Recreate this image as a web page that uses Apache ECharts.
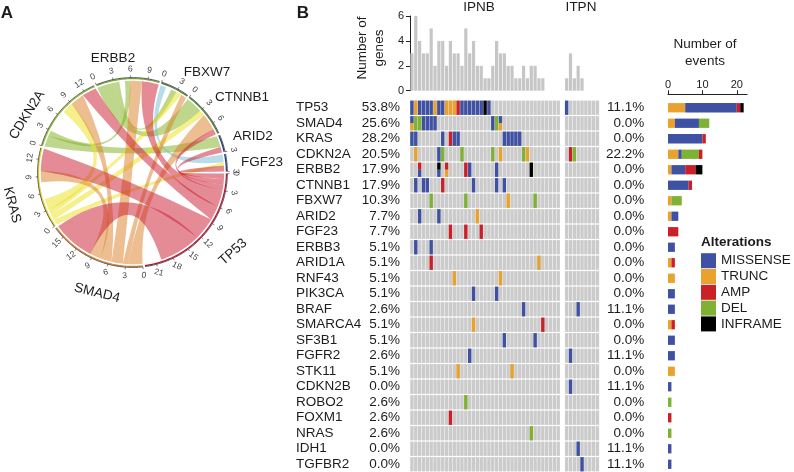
<!DOCTYPE html>
<html>
<head>
<meta charset="utf-8">
<style>html,body{margin:0;padding:0;background:#fff}#c{width:794px;height:472px}</style>
<script src="https://cdn.jsdelivr.net/npm/echarts@6/dist/echarts.min.js"></script>
</head>
<body>
<div id="c"></div>
<script>
// ---------- Panel A data ----------
const sectorNames = ['TP53','SMAD4','KRAS','CDKN2A','ERBB2','FBXW7','CTNNB1','ARID2','FGF23'];
const sectorSizes = [23,17,14,14,11,5,8,3,3];
const sectorColors = ['#C8102E','#E07F2A','#E8D916','#8FBF2A','#7EA832','#4f7d3a','#4f7d3a','#1a3b8c','#1a3b8c'];
const sectorTicks = [
  [0,3,6,9,12,15,18,21],[0,3,6,9,12,15],[0,3,6,9,12],[0,3,6,9,12],[0,3,6,9],[0,3],[0,3,6],[3],[3]
];
// link: colour key, sector A, start, end, sector B, start, end (in event units)
const links = [
  ['green', 'ERBB2',0,3,'CTNNB1',0,3],
  ['green', 'ERBB2',3,4,'FBXW7',2,3],
  ['green', 'CDKN2A',2,3,'ERBB2',5,6],
  ['green', 'CDKN2A',0,2,'ARID2',0,2],
  ['blue',  'FBXW7',0,1,'FGF23',0,1.4],
  ['yellow','KRAS',0,1,'FGF23',1.4,2],
  ['yellow','KRAS',1,2,'CTNNB1',3,4],
  ['yellow','KRAS',2,3,'FBXW7',3,4],
  ['yellow','KRAS',3,5,'CDKN2A',7,9],
  ['orange','SMAD4',0,2.5,'CTNNB1',4,7],
  ['orange','SMAD4',2.5,3.5,'FBXW7',4,5],
  ['orange','SMAD4',3.5,5.5,'ERBB2',6,8],
  ['orange','SMAD4',5.5,7.5,'CDKN2A',9,11.5],
  ['orange','SMAD4',7.5,9.5,'KRAS',8,10],
  ['red',   'TP53',0,1,'FGF23',2,3],
  ['red',   'TP53',1,2,'ARID2',2,3],
  ['red',   'TP53',2,3,'CTNNB1',7,8],
  ['red',   'TP53',3,6,'ERBB2',8,11],
  ['red',   'TP53',6,8.5,'CDKN2A',11.5,14],
  ['red',   'TP53',8.5,12.5,'KRAS',10,14],
  ['red',   'TP53',12.5,20,'SMAD4',9.5,17]
];
const linkColors = {red:'#C9182B',orange:'#D97D23',yellow:'#EBDF19',green:'#7DAF19',blue:'#73B9D7'};

// ---------- Panel B data ----------
const genes = ['TP53','SMAD4','KRAS','CDKN2A','ERBB2','CTNNB1','FBXW7','ARID2','FGF23','ERBB3','ARID1A','RNF43','PIK3CA','BRAF','SMARCA4','SF3B1','FGFR2','STK11','CDKN2B','ROBO2','FOXM1','NRAS','IDH1','TGFBR2'];
const pctIPNB = ['53.8%','25.6%','28.2%','20.5%','17.9%','17.9%','10.3%','7.7%','7.7%','5.1%','5.1%','5.1%','5.1%','2.6%','5.1%','5.1%','2.6%','5.1%','0.0%','2.6%','2.6%','2.6%','0.0%','0.0%'];
const pctITPN = ['11.1%','0.0%','0.0%','22.2%','0.0%','0.0%','0.0%','0.0%','0.0%','0.0%','0.0%','0.0%','0.0%','11.1%','0.0%','0.0%','11.1%','0.0%','11.1%','0.0%','0.0%','0.0%','11.1%','11.1%'];
const genesPerSampleIPNB = [3,6,4,3,3,5,2,4,4,2,4,3,3,2,5,3,4,2,2,1,1,2,4,3,3,2,2,1,1,2,1,2,2,1,1,0,0,0,0];
const genesPerSampleITPN = [1,3,1,2,1,0,0,0,0];
// M missense, T trunc, A amp, D del, I inframe: [column, type, optional lower-half type]
const cellsIPNB = [
  [[0,'M'],[1,'T'],[2,'M'],[3,'M'],[4,'M'],[5,'M'],[6,'T'],[7,'M'],[8,'M'],[9,'T'],[10,'T'],[11,'T'],[12,'A'],[13,'M'],[14,'M'],[15,'M'],[16,'M'],[17,'M'],[18,'M'],[19,'I'],[20,'M']],
  [[0,'M','T'],[1,'D'],[2,'D'],[3,'M'],[4,'M'],[5,'M'],[6,'M'],[21,'M'],[22,'D'],[23,'M','T']],
  [[0,'M'],[1,'M'],[8,'M'],[10,'A'],[11,'M'],[12,'M'],[24,'M'],[25,'M'],[26,'M'],[27,'M'],[28,'M']],
  [[1,'T'],[7,'M'],[8,'D'],[13,'D'],[21,'D'],[23,'T'],[29,'D'],[30,'T']],
  [[2,'A','M'],[7,'I','M'],[9,'A','T'],[14,'A'],[15,'M'],[22,'M'],[31,'I']],
  [[1,'M'],[3,'M'],[4,'M'],[8,'A'],[16,'M'],[22,'M'],[24,'M']],
  [[5,'D'],[14,'D'],[25,'T'],[32,'D']],
  [[2,'M'],[7,'M'],[17,'T']],
  [[10,'A'],[14,'A'],[18,'A']],
  [[1,'M'],[5,'M']],
  [[5,'A'],[33,'T']],
  [[11,'T'],[23,'T']],
  [[16,'M'],[22,'M']],
  [[29,'M']],
  [[16,'T'],[34,'A']],
  [[24,'M'],[32,'M']],
  [[15,'M']],
  [[12,'T'],[26,'T']],
  [],
  [[14,'D']],
  [[10,'A']],
  [[31,'D']],
  [],
  []
];
const cellsITPN = [
  [[0,'M']],[],[],[[1,'A'],[2,'D']],[],[],[],[],[],[],[],[],[],[[3,'M']],[],[],[[1,'M']],[],[[1,'M']],[],[],[],[[3,'M']],[[4,'M']]
];
const eventsTrunc    = [5,2,0,3,1,0,1,1,0,0,1,2,0,0,1,0,0,2,0,0,0,0,0,0];
const eventsMissense = [15,7,10,1,4,6,0,2,0,2,0,0,2,2,0,2,2,0,1,0,0,0,1,1];
const eventsDel      = [0,3,0,5,0,0,3,0,0,0,0,0,0,0,0,0,0,0,0,1,0,1,0,0];
const eventsAmp      = [1,0,1,1,3,1,0,0,3,0,1,0,0,0,1,0,0,0,0,0,1,0,0,0];
const eventsInframe  = [1,0,0,0,2,0,0,0,0,0,0,0,0,0,0,0,0,0,0,0,0,0,0,0];
const eventTicks = [0,10,20];

// ---------- Styles ----------
const FONT = '"Liberation Sans", Arial, sans-serif';
const COL = {M:'#3F51A3',T:'#E8A22D',A:'#CB2027',D:'#7FB135',I:'#000000'};
const GREY = '#CBCBCB', BARGREY = '#C6C6C6', INK = '#1c1c1c';
const GAP = 0.37, RIB_R = 91.7, RING_R = 93.9, BLACK_R = 94.9;

// ---------- Circular layout in event units ----------
const sectorStart = [];
let running = GAP / 2;
sectorSizes.forEach((s,i)=>{ sectorStart[i]=running; running += s + GAP; });
const totalUnits = running - GAP/2;
const pos = (name,u)=> sectorStart[sectorNames.indexOf(name)] + u;

function renderLink(params, api){
  const l = links[params.dataIndex];
  const a0=pos(l[1],l[2]), a1=pos(l[1],l[3]), b0=pos(l[4],l[5]), b1=pos(l[4],l[6]);
  const arc=(from,to)=>{ const out=[]; const n=Math.max(2,Math.ceil((to-from)*4));
    for(let i=0;i<=n;i++){ out.push(api.coord([RIB_R, from+(to-from)*i/n])); } return out; };
  // control point of one ribbon edge: at the centre for close ends, pushed out for far ends
  const ctrl=(u,v)=>{
    let du=((v-u)%totalUnits+totalUnits)%totalUnits; if(du>totalUnits/2) du-=totalUnits;
    const deg=Math.abs(du)/totalUnits*360;
    const chord=RIB_R*Math.cos(deg/2*Math.PI/180);
    const k=0.5+0.3*Math.min(1,Math.max(0,(deg-100)/60));
    const r=Math.max(0.5,(2*k-1)*chord);
    const mid=((u+du/2)%totalUnits+totalUnits)%totalUnits;
    return api.coord([r,mid]);
  };
  const A=arc(a0,a1), B=arc(b0,b1), c1=ctrl(a1,b0), c2=ctrl(b1,a0);
  let d='M'+A[0][0]+' '+A[0][1];
  A.slice(1).forEach(p=>{d+=' L'+p[0]+' '+p[1];});
  d+=' Q'+c1[0]+' '+c1[1]+' '+B[0][0]+' '+B[0][1];
  B.slice(1).forEach(p=>{d+=' L'+p[0]+' '+p[1];});
  d+=' Q'+c2[0]+' '+c2[1]+' '+A[0][0]+' '+A[0][1]+' Z';
  return {type:'path',shape:{pathData:d},style:{fill:linkColors[l[0]],opacity:0.5,stroke:null}};
}
function renderSector(params, api){
  const i=params.dataIndex, s=sectorStart[i], size=sectorSizes[i];
  const c=api.coord([0,0]);
  const line=(r,color,w)=>{ const pts=[]; const n=Math.ceil(size*4);
    for(let k=0;k<=n;k++){ pts.push(api.coord([r,s+size*k/n])); }
    return {type:'polyline',shape:{points:pts},style:{stroke:color,lineWidth:w,fill:null}}; };
  const children=[line(RING_R,sectorColors[i],1.2),line(BLACK_R,'#111',0.7)];
  sectorTicks[i].forEach(t=>{
    const p0=api.coord([BLACK_R,s+t]), p1=api.coord([BLACK_R+2.2,s+t]), pl=api.coord([103.5,s+t]);
    children.push({type:'line',shape:{x1:p0[0],y1:p0[1],x2:p1[0],y2:p1[1]},style:{stroke:'#333',lineWidth:0.6}});
    let th=Math.atan2(pl[1]-c[1],pl[0]-c[0])*180/Math.PI; if(th<0) th+=360;
    const cw = th<=180 ? 90-th : th-270;
    children.push({type:'text',x:pl[0],y:pl[1],rotation:-cw*Math.PI/180,
      style:{text:String(t),font:'8.5px '+FONT,fill:'#444',textAlign:'center',textVerticalAlign:'middle'}});
  });
  return {type:'group',children};
}
function renderBackground(params, api){
  const p=api.coord([api.value(0),api.value(1)]), s=api.size([1,1]);
  return {type:'rect',shape:{x:p[0]-s[0]*0.44,y:p[1]-7.15,width:s[0]*0.88,height:14.3},style:{fill:GREY}};
}
function renderCell(params, api){
  const p=api.coord([api.value(0),api.value(1)]), s=api.size([1,1]);
  const code=api.value(2), lower=api.value(3);
  const w=s[0]*0.88, x=p[0]-w/2, y=p[1]-7.15, h=14.3;
  const a=['M','T','A','D','I'][code];
  if(lower<0) return {type:'rect',shape:{x,y,width:w,height:h},style:{fill:COL[a]}};
  const b=['M','T','A','D','I'][lower];
  return {type:'group',children:[
    {type:'rect',shape:{x,y,width:w,height:h/2},style:{fill:COL[a]}},
    {type:'rect',shape:{x,y:y+h/2,width:w,height:h/2},style:{fill:COL[b]}}
  ]};
}
const codeOf=t=>['M','T','A','D','I'].indexOf(t);
const flatten=rows=>{const out=[];rows.forEach((r,ri)=>r.forEach(c=>out.push([c[0],ri,codeOf(c[1]),c[2]?codeOf(c[2]):-1])));return out;};
const bgCells=n=>{const out=[];genes.forEach((g,r)=>{for(let c=0;c<n;c++)out.push([c,r]);});return out;};
const idx=n=>Array.from({length:n},(_,i)=>i);

const chart=echarts.init(document.getElementById('c'),null,{renderer:'canvas'});
const GX=410, GW=150.15, IX=564.7, IW=34.65, ROW_T=100, ROW_H=372;
const textEl=(text,x,y,size,opt={})=>({type:'text',x,y,rotation:-(opt.rot||0)*Math.PI/180,silent:true,
  style:{text,font:(opt.bold?'bold ':'')+size+'px '+FONT,fill:opt.fill||INK,textAlign:opt.align||'center',textVerticalAlign:'middle'}});

const yCat={type:'category',data:genes,inverse:true,axisLine:{show:false},axisTick:{show:false},splitLine:{show:false}};
const rowLabel=(align,margin)=>({align,margin,fontSize:13.5,color:INK,fontFamily:FONT,padding:[4,0,0,0],interval:0});
chart.setOption({
  animation:false,
  backgroundColor:'#fff',
  textStyle:{fontFamily:FONT},
  polar:{center:[132.5,172.5],radius:95},
  radiusAxis:{min:0,max:95,show:false},
  angleAxis:{type:'value',min:0,max:totalUnits,startAngle:0,clockwise:true,show:false},
  grid:[
    {left:GX,top:16,width:GW,height:74.7},
    {left:IX,top:16,width:IW,height:74.7},
    {left:GX,top:ROW_T,width:GW,height:ROW_H},
    {left:IX,top:ROW_T,width:IW,height:ROW_H},
    {left:668,top:ROW_T,width:79.1,height:ROW_H}
  ],
  xAxis:[
    {gridIndex:0,type:'category',data:idx(39),show:false},
    {gridIndex:1,type:'category',data:idx(9),show:false},
    {gridIndex:2,type:'category',data:idx(39),show:false},
    {gridIndex:3,type:'category',data:idx(9),show:false},
    {gridIndex:4,type:'value',position:'top',offset:5.7,min:0,max:23,interval:10,
      axisLine:{show:true,lineStyle:{color:'#222',width:1}},
      axisTick:{show:true,length:4,customValues:eventTicks,lineStyle:{color:'#222'}},
      axisLabel:{show:true,customValues:eventTicks,fontSize:11,color:INK,margin:4,fontFamily:FONT},
      splitLine:{show:false}}
  ],
  yAxis:[
    {gridIndex:0,type:'value',min:0,max:6,interval:2,
      axisLine:{show:true,lineStyle:{color:'#222',width:1}},
      axisTick:{show:true,length:4,lineStyle:{color:'#222'}},
      axisLabel:{fontSize:11,color:INK,margin:6,fontFamily:FONT},
      splitLine:{show:false}},
    {gridIndex:1,type:'value',min:0,max:6,show:false,splitLine:{show:false}},
    Object.assign({},yCat,{gridIndex:2,position:'left',axisLabel:rowLabel('left',114)}),
    Object.assign({},yCat,{gridIndex:2,position:'left',data:pctIPNB.map(p=>({value:p})),axisLabel:rowLabel('right',10)}),
    Object.assign({},yCat,{gridIndex:3,position:'right',data:pctITPN.map(p=>({value:p})),axisLabel:rowLabel('right',45)}),
    Object.assign({},yCat,{gridIndex:4,axisLabel:{show:false}})
  ],
  legend:{orient:'vertical',left:701,top:253.2,padding:0,itemWidth:15,itemHeight:15,itemGap:0.8,icon:'rect',
    data:['MISSENSE','TRUNC','AMP','DEL','INFRAME'],selectedMode:false,
    textStyle:{fontSize:13.5,color:INK,fontFamily:FONT}},
  series:[
    {type:'custom',coordinateSystem:'polar',data:links.map((l,i)=>[RIB_R,i]),renderItem:renderLink,silent:true,clip:false},
    {type:'custom',coordinateSystem:'polar',data:sectorNames.map((l,i)=>[RING_R,i]),renderItem:renderSector,silent:true,clip:false},
    {type:'bar',xAxisIndex:0,yAxisIndex:0,data:genesPerSampleIPNB,barWidth:3.2,itemStyle:{color:BARGREY},silent:true},
    {type:'bar',xAxisIndex:1,yAxisIndex:1,data:genesPerSampleITPN,barWidth:3.2,itemStyle:{color:BARGREY},silent:true},
    {type:'custom',xAxisIndex:2,yAxisIndex:2,data:bgCells(39),renderItem:renderBackground,silent:true,encode:{x:0,y:1}},
    {type:'custom',xAxisIndex:3,yAxisIndex:4,data:bgCells(9),renderItem:renderBackground,silent:true,encode:{x:0,y:1}},
    {type:'custom',xAxisIndex:2,yAxisIndex:2,data:flatten(cellsIPNB),renderItem:renderCell,silent:true,encode:{x:0,y:1}},
    {type:'custom',xAxisIndex:3,yAxisIndex:4,data:flatten(cellsITPN),renderItem:renderCell,silent:true,encode:{x:0,y:1}},
    {name:'TRUNC',type:'bar',stack:'ev',xAxisIndex:4,yAxisIndex:5,data:eventsTrunc,barWidth:9.3,itemStyle:{color:COL.T},silent:true},
    {name:'MISSENSE',type:'bar',stack:'ev',xAxisIndex:4,yAxisIndex:5,data:eventsMissense,barWidth:9.3,itemStyle:{color:COL.M},silent:true},
    {name:'DEL',type:'bar',stack:'ev',xAxisIndex:4,yAxisIndex:5,data:eventsDel,barWidth:9.3,itemStyle:{color:COL.D},silent:true},
    {name:'AMP',type:'bar',stack:'ev',xAxisIndex:4,yAxisIndex:5,data:eventsAmp,barWidth:9.3,itemStyle:{color:COL.A},silent:true},
    {name:'INFRAME',type:'bar',stack:'ev',xAxisIndex:4,yAxisIndex:5,data:eventsInframe,barWidth:9.3,itemStyle:{color:COL.I},silent:true}
  ],
  graphic:[
    textEl('A',7,13,17,{bold:true}),
    textEl('B',303,13,17,{bold:true}),
    textEl('ERBB2',113,58,13.5),
    textEl('FBXW7',207,72,13.5),
    textEl('CTNNB1',242,97,13.5),
    textEl('ARID2',253,136,13.5),
    textEl('FGF23',262,162,13.5),
    textEl('TP53',233,252,13.5,{rot:-42}),
    textEl('SMAD4',97,293,13.5,{rot:14}),
    textEl('KRAS',12,205,13.5,{rot:75}),
    textEl('CDKN2A',27,115,13.5,{rot:-58}),
    textEl('IPNB',479,7,13.5),
    textEl('ITPN',581,7,13.5),
    textEl('Number of',362,48,13.5,{rot:-90}),
    textEl('genes',379,48,13.5,{rot:-90}),
    textEl('Number of',705,44,13.5),
    textEl('events',705,61,13.5),
    textEl('Alterations',701,242,13.5,{bold:true,align:'left'})
  ]
});
</script>
</body>
</html>
